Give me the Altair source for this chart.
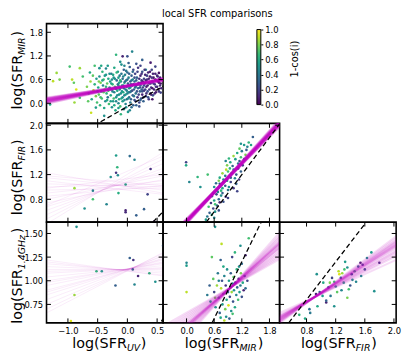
import altair as alt
import pandas as pd

FONT = "DejaVu Sans"
MAG = "#bf00bf"

# ---------------- axis ranges and ticks ----------------
UV_DOM = [-1.36, 0.6]
MIR_DOM = [-0.51, 2.02]
FIR_DOM = [0.43, 2.03]
R14_DOM = [0.555, 1.62]
UV_TICKS = [-1.0, -0.5, 0.0, 0.5]
MIR_TICKS = [0.0, 0.6, 1.2, 1.8]
FIR_TICKS = [0.8, 1.2, 1.6, 2.0]
R14_TICKS = [0.75, 1.0, 1.25, 1.5]
CB_TICKS = [0.0, 0.2, 0.4, 0.6, 0.8, 1.0]

# ---------------- scatter data (x, y, 1-cos(i)) ----------------
P_UV_MIR = [
    (0.08, 1.31, 0.45), (-0.19, 1.23, 0.65), (-0.08, 1.19, 0.1), (0.0, 1.19, 0.25), (0.25, 1.10, 0.3),
    (0.39, 1.03, 0.08), (-0.97, 0.93, 0.7), (-0.80, 0.89, 0.85), (-0.55, 0.95, 0.7), (-0.47, 0.89, 0.5),
    (-0.33, 0.95, 0.55), (-1.19, 0.77, 0.85), (-1.25, 0.56, 0.9), (-1.14, 0.60, 0.8), (-0.93, 0.60, 0.9),
    (-0.90, 0.52, 0.75), (-0.75, 0.68, 0.7), (-0.86, 0.35, 0.95), (-1.30, -0.03, 0.6), (-0.89, 0.02, 0.85),
    (-0.80, 0.14, 0.7), (-0.61, -0.24, 0.92), (-0.39, -0.32, 0.5), (-0.11, -0.28, 0.65), (-0.53, -0.11, 0.55),
    (0.47, 0.93, 0.2), (0.53, 0.77, 0.05), (0.31, 0.85, 0.45), (0.56, 0.27, 0.2), (0.42, 0.10, 0.05),
    (-0.68, 0.42, 0.8), (-0.65, 0.25, 0.7), (-0.62, 0.55, 0.85), (-0.60, 0.10, 0.6), (-0.58, 0.70, 0.75),
    (-0.57, 0.33, 0.9), (-0.55, 0.48, 0.65), (-0.53, 0.18, 0.8), (-0.52, 0.62, 0.55), (-0.51, 0.02, 0.7),
    (-0.66, 0.05, 0.75), (-0.63, 0.78, 0.6),
    (-0.49, 0.40, 0.6), (-0.48, 0.22, 0.75), (-0.47, 0.68, 0.5), (-0.46, -0.05, 0.65), (-0.45, 0.52, 0.8),
    (-0.44, 0.30, 0.55), (-0.43, 0.12, 0.7), (-0.42, 0.80, 0.65), (-0.41, 0.45, 0.45), (-0.40, 0.60, 0.7),
    (-0.39, -0.12, 0.6), (-0.38, 0.35, 0.85), (-0.37, 0.05, 0.5), (-0.36, 0.72, 0.55), (-0.35, 0.25, 0.65),
    (-0.34, 0.50, 0.75), (-0.33, 0.15, 0.4), (-0.32, 0.62, 0.6), (-0.31, -0.02, 0.7), (-0.30, 0.40, 0.5),
    (-0.44, 0.95, 0.6), (-0.36, 0.88, 0.45),
    (-0.29, 0.55, 0.55), (-0.28, 0.20, 0.6), (-0.27, 0.75, 0.4), (-0.27, 0.35, 0.7), (-0.26, -0.10, 0.5),
    (-0.25, 0.48, 0.65), (-0.24, 0.05, 0.55), (-0.23, 0.65, 0.5), (-0.22, 0.28, 0.45), (-0.22, 0.90, 0.6),
    (-0.21, 0.42, 0.75), (-0.20, -0.18, 0.6), (-0.19, 0.15, 0.5), (-0.18, 0.58, 0.35), (-0.17, 0.32, 0.6),
    (-0.16, 0.80, 0.55), (-0.15, 0.00, 0.45), (-0.15, 0.45, 0.65), (-0.14, 0.22, 0.5), (-0.13, 0.70, 0.4),
    (-0.12, 0.38, 0.55), (-0.12, -0.08, 0.7), (-0.11, 0.55, 0.45), (-0.10, 0.12, 0.6), (-0.10, 0.98, 0.5),
    (-0.26, 0.60, 0.5), (-0.19, 0.36, 0.55), (-0.14, 0.52, 0.6),
    (-0.09, 0.30, 0.5), (-0.08, 0.62, 0.35), (-0.08, 0.05, 0.55), (-0.07, 0.45, 0.45), (-0.06, 0.85, 0.3),
    (-0.06, -0.15, 0.5), (-0.05, 0.20, 0.4), (-0.05, 0.52, 0.6), (-0.04, 0.72, 0.45), (-0.03, 0.35, 0.35),
    (-0.03, -0.02, 0.45), (-0.02, 0.58, 0.5), (-0.01, 0.10, 0.3), (-0.01, 0.42, 0.55), (0.00, 0.78, 0.35),
    (0.00, 0.25, 0.4), (0.01, -0.22, 0.55), (0.01, 0.50, 0.3), (0.02, 0.65, 0.45), (0.03, 0.15, 0.35),
    (0.03, 0.38, 0.5), (0.04, 0.92, 0.3), (0.05, 0.02, 0.4), (0.05, 0.55, 0.25), (0.06, 0.30, 0.45),
    (0.07, 0.70, 0.3), (0.07, -0.10, 0.35), (0.08, 0.45, 0.4), (0.09, 0.20, 0.3), (0.09, 0.60, 0.5),
    (0.10, 0.85, 0.2), (-0.07, 0.28, 0.6), (0.02, 0.28, 0.55), (0.06, 0.48, 0.35),
    (0.11, 0.35, 0.3), (0.12, 0.08, 0.25), (0.12, 0.55, 0.35), (0.13, 0.75, 0.2), (0.14, 0.25, 0.4),
    (0.15, -0.05, 0.3), (0.15, 0.45, 0.2), (0.16, 0.65, 0.3), (0.17, 0.15, 0.15), (0.18, 0.38, 0.35),
    (0.18, 0.90, 0.15), (0.19, 0.52, 0.25), (0.20, 0.02, 0.2), (0.21, 0.30, 0.3), (0.22, 0.70, 0.1),
    (0.22, 0.45, 0.4), (0.23, 0.12, 0.25), (0.24, 0.58, 0.15), (0.25, 0.80, 0.25), (0.25, 0.22, 0.1),
    (0.26, 0.40, 0.2), (0.27, 0.05, 0.3), (0.28, 0.62, 0.2), (0.28, 0.32, 0.15), (0.29, 0.50, 0.35),
    (0.30, 0.72, 0.1), (0.14, 0.42, 0.45), (0.24, 0.35, 0.3),
    (0.31, 0.18, 0.2), (0.32, 0.42, 0.1), (0.33, 0.60, 0.15), (0.34, 0.30, 0.25), (0.35, 0.78, 0.1),
    (0.36, 0.10, 0.15), (0.37, 0.50, 0.2), (0.38, 0.68, 0.05), (0.39, 0.25, 0.1), (0.40, 0.40, 0.15),
    (0.41, 0.85, 0.2), (0.42, 0.55, 0.1), (0.43, 0.20, 0.25), (0.44, 0.65, 0.05), (0.45, 0.35, 0.1),
    (0.46, 0.48, 0.15), (0.47, 0.75, 0.1), (0.48, 0.28, 0.05), (0.49, 0.58, 0.2), (0.50, 0.42, 0.1),
    (0.51, 0.68, 0.15), (0.52, 0.35, 0.05), (0.53, 0.52, 0.1), (0.54, 0.62, 0.08), (0.55, 0.45, 0.12),
    (-0.28, 0.05, 0.55), (-0.27, 0.50, 0.6), (-0.25, 0.30, 0.45), (-0.24, 0.72, 0.6), (-0.23, 0.12, 0.7),
    (-0.21, 0.62, 0.5), (-0.20, 0.40, 0.55), (-0.19, 0.05, 0.45), (-0.18, 0.78, 0.65), (-0.17, 0.20, 0.5),
    (-0.16, 0.48, 0.4), (-0.15, 0.65, 0.55), (-0.14, 0.10, 0.6), (-0.13, 0.35, 0.45), (-0.12, 0.58, 0.65),
    (-0.11, 0.25, 0.5), (-0.10, 0.75, 0.4), (-0.09, 0.45, 0.55), (-0.08, 0.15, 0.5), (-0.07, 0.68, 0.45),
    (-0.06, 0.38, 0.4), (-0.05, 0.08, 0.5), (-0.04, 0.55, 0.3), (-0.03, 0.22, 0.55), (-0.02, 0.82, 0.4),
    (-0.01, 0.32, 0.45), (0.00, 0.60, 0.35), (0.01, 0.12, 0.5), (0.02, 0.45, 0.4), (0.03, 0.75, 0.3),
    (0.04, 0.28, 0.35), (0.05, 0.40, 0.5), (0.06, 0.10, 0.3), (0.07, 0.58, 0.4), (0.08, 0.32, 0.25),
    (0.09, 0.80, 0.35), (0.10, 0.48, 0.3), (0.11, 0.18, 0.4), (0.12, 0.65, 0.25), (0.13, 0.40, 0.35),
    (0.14, 0.05, 0.2), (0.15, 0.58, 0.3), (0.16, 0.30, 0.25), (0.17, 0.80, 0.2), (0.18, 0.48, 0.3),
    (0.19, 0.22, 0.2), (0.20, 0.62, 0.15), (0.21, 0.40, 0.25), (0.22, 0.08, 0.3), (0.23, 0.52, 0.2),
    (0.24, 0.75, 0.15), (0.25, 0.30, 0.25), (0.26, 0.55, 0.1), (0.27, 0.15, 0.2), (0.28, 0.45, 0.25),
    (0.29, 0.85, 0.15), (0.30, 0.35, 0.2), (0.31, 0.58, 0.1), (0.32, 0.25, 0.15), (0.33, 0.70, 0.2),
    (0.34, 0.45, 0.1), (0.35, 0.15, 0.25), (0.36, 0.62, 0.1), (0.37, 0.35, 0.15), (0.38, 0.80, 0.08),
    (0.39, 0.50, 0.2), (0.40, 0.22, 0.1), (0.41, 0.65, 0.15), (0.42, 0.38, 0.05), (0.43, 0.75, 0.1),
    (0.44, 0.50, 0.2), (0.46, 0.25, 0.1), (0.47, 0.60, 0.05), (0.48, 0.42, 0.15), (0.50, 0.70, 0.1),
    (0.52, 0.55, 0.05), (0.53, 0.30, 0.15), (0.55, 0.65, 0.1), (0.56, 0.50, 0.05), (0.57, 0.38, 0.1),
    (-0.45, 0.15, 0.7), (-0.42, 0.58, 0.6), (-0.40, 0.28, 0.75), (-0.38, 0.70, 0.55), (-0.36, 0.42, 0.65),
    (-0.34, 0.08, 0.6), (-0.32, 0.32, 0.7), (-0.30, 0.75, 0.5), (-0.48, 0.55, 0.8), (-0.50, 0.30, 0.7),
    (-0.02, -0.10, 0.5), (0.10, -0.05, 0.3), (-0.15, -0.12, 0.55), (0.20, -0.08, 0.25), (0.04, -0.18, 0.45),
    (-0.22, -0.05, 0.6), (0.02, 1.02, 0.3), (-0.12, 1.05, 0.5), (0.15, 1.00, 0.25), (0.22, 0.95, 0.2),
    (-0.05, 0.95, 0.45),
]

P_UV_FIR = [
    (-0.19, 1.51, 0.55), (0.04, 1.50, 0.35), (0.12, 1.44, 0.45), (-0.17, 1.32, 0.65), (-0.19, 1.23, 0.15),
    (-0.16, 1.19, 0.5), (-0.28, 1.16, 0.5), (0.39, 1.29, 0.15), (-0.03, 1.04, 0.6), (-0.89, 0.98, 0.85),
    (-0.58, 0.94, 0.45), (-0.15, 0.90, 0.62), (0.34, 0.88, 0.2), (-0.58, 0.80, 0.7), (-0.35, 0.72, 0.45),
    (-0.72, 0.65, 0.5), (-0.03, 0.62, 0.1), (-0.03, 0.59, 0.12), (0.28, 0.64, 0.3), (0.15, 0.54, 0.3),
    (0.45, 0.44, 0.05),
]

P_MIR_FIR = [
    (0.45, 0.52, 0.4), (0.50, 0.58, 0.3), (0.55, 0.55, 0.6), (0.58, 0.65, 0.2), (0.62, 0.60, 0.5),
    (0.48, 0.68, 0.7), (0.66, 0.70, 0.3), (0.53, 0.74, 0.15), (0.70, 0.62, 0.25), (0.60, 0.50, 0.45),
    (0.42, 0.47, 0.55),
    (0.55, 0.85, 0.4), (0.60, 0.78, 0.6), (0.65, 0.88, 0.2), (0.70, 0.80, 0.35), (0.75, 0.86, 0.5),
    (0.80, 0.76, 0.25), (0.85, 0.84, 0.15), (0.62, 0.72, 0.7), (0.68, 0.92, 0.45), (0.78, 0.90, 0.3),
    (0.90, 0.82, 0.2), (0.58, 0.90, 0.55), (0.72, 0.75, 0.1),
    (0.60, 1.00, 0.5), (0.66, 0.95, 0.7), (0.72, 1.05, 0.3), (0.78, 0.98, 0.6), (0.84, 1.02, 0.25),
    (0.90, 0.95, 0.4), (0.96, 1.08, 0.2), (1.02, 0.98, 0.15), (0.70, 1.10, 0.8), (0.80, 1.08, 0.45),
    (0.88, 1.10, 0.55), (1.08, 1.05, 0.3), (0.64, 1.06, 0.35), (0.75, 0.94, 0.65), (0.92, 1.00, 0.5),
    (1.10, 0.93, 0.2),
    (0.72, 1.15, 0.6), (0.78, 1.22, 0.85), (0.84, 1.18, 0.4), (0.90, 1.25, 0.7), (0.96, 1.15, 0.3),
    (1.02, 1.28, 0.5), (1.08, 1.20, 0.25), (1.14, 1.12, 0.15), (0.86, 1.28, 0.9), (0.98, 1.22, 0.6),
    (1.05, 1.14, 0.45), (1.18, 1.25, 0.3), (0.80, 1.12, 0.55), (0.94, 1.30, 0.65), (1.12, 1.30, 0.2),
    (0.88, 1.35, 0.8), (0.95, 1.40, 0.6), (1.00, 1.34, 0.3), (1.06, 1.45, 0.55), (1.12, 1.38, 0.4),
    (1.18, 1.48, 0.7), (1.22, 1.35, 0.2), (0.92, 1.46, 0.65), (1.02, 1.50, 0.85), (1.15, 1.42, 0.25),
    (1.25, 1.45, 0.5), (0.85, 1.42, 0.45),
    (1.10, 1.55, 0.6), (1.15, 1.62, 0.75), (1.20, 1.58, 0.4), (1.25, 1.68, 0.55), (1.30, 1.60, 0.3),
    (1.35, 1.72, 0.65), (1.18, 1.70, 0.5), (1.28, 1.52, 0.8), (1.32, 1.65, 0.45), (1.44, 1.81, 0.3),
    (1.40, 1.68, 0.6),
    (-0.01, 1.40, 0.2), (-0.01, 1.35, 0.6), (0.06, 1.08, 0.45), (0.24, 1.16, 0.65), (0.46, 1.20, 0.7),
    (0.30, 1.00, 0.5),
]

P_UV_R14 = [
    (-0.855, 1.57, 0.5), (0.04, 1.24, 0.3), (0.10, 1.22, 0.15), (0.09, 1.12, 0.35), (-0.52, 1.10, 0.65),
    (-0.43, 1.10, 0.55), (0.18, 1.05, 0.1), (0.37, 1.08, 0.65), (0.47, 0.99, 0.5), (0.60, 1.37, 0.3),
    (-0.20, 0.95, 0.3), (0.12, 0.96, 0.45), (-0.89, 0.85, 0.85), (-0.95, 0.575, 0.95),
]

P_MIR_R14 = [
    (0.62, 1.57, 0.5), (0.76, 1.39, 0.9), (1.35, 1.45, 0.7), (1.17, 1.37, 0.5), (0.0, 1.19, 0.45),
    (0.0, 1.16, 0.55), (0.0, 0.88, 0.9), (0.55, 1.25, 0.75), (0.74, 1.22, 0.3), (0.99, 1.25, 0.2),
    (1.28, 1.27, 0.1), (0.74, 0.61, 0.6), (1.05, 1.30, 0.65), (1.20, 1.18, 0.35),
    (0.45, 0.85, 0.4), (0.50, 0.95, 0.3), (0.52, 0.78, 0.6), (0.58, 1.02, 0.75), (0.60, 0.88, 0.2),
    (0.63, 0.72, 0.5), (0.66, 0.95, 0.85), (0.68, 1.08, 0.4), (0.70, 0.82, 0.65), (0.72, 0.66, 0.3),
    (0.75, 0.92, 0.9), (0.77, 1.00, 0.25), (0.78, 0.75, 0.55), (0.80, 0.86, 0.7), (0.82, 1.05, 0.45),
    (0.84, 0.70, 0.8), (0.85, 0.95, 0.15), (0.87, 0.80, 0.6), (0.88, 1.12, 0.5), (0.90, 0.88, 0.35),
    (0.91, 0.74, 0.95), (0.92, 1.00, 0.55), (0.94, 0.83, 0.2), (0.95, 0.93, 0.7), (0.96, 1.08, 0.3),
    (0.97, 0.68, 0.5), (0.98, 0.88, 0.85), (1.00, 0.97, 0.4), (1.01, 0.78, 0.25), (1.02, 1.04, 0.75),
    (1.03, 0.90, 0.5), (1.05, 0.72, 0.6), (1.06, 0.98, 0.15), (1.08, 0.85, 0.45), (1.09, 1.12, 0.65),
    (1.10, 0.93, 0.3), (1.12, 0.80, 0.7), (1.13, 1.02, 0.2), (1.15, 0.88, 0.55), (1.17, 0.95, 0.4),
    (1.18, 1.08, 0.8), (1.20, 0.83, 0.25), (1.22, 0.98, 0.6), (1.24, 0.90, 0.1), (1.26, 1.05, 0.45),
    (1.28, 0.92, 0.35), (0.86, 0.62, 0.5), (0.93, 0.60, 0.3), (1.00, 0.65, 0.7), (0.80, 1.15, 0.6),
    (0.70, 1.00, 0.45), (0.62, 0.82, 0.8), (1.32, 1.00, 0.2), (1.14, 1.15, 0.5), (0.82, 0.58, 0.9),
]

P_FIR_R14 = [
    (0.94, 1.07, 0.5), (0.93, 0.86, 0.1), (0.98, 0.88, 0.3), (0.84, 0.70, 0.35), (0.70, 0.64, 0.65),
    (1.07, 0.77, 0.1), (1.13, 0.84, 0.4), (1.20, 0.94, 0.55), (1.25, 1.07, 0.95), (1.29, 1.08, 0.85),
    (1.36, 1.14, 0.5), (1.38, 0.91, 0.7), (1.43, 1.01, 0.5), (1.48, 0.99, 0.45), (1.54, 1.19, 0.1),
    (1.57, 1.17, 0.25), (1.63, 1.24, 0.5), (1.69, 1.30, 0.55), (1.73, 0.89, 0.5), (1.80, 1.19, 0.15),
    (1.18, 0.73, 0.5), (1.36, 0.82, 0.8), (1.07, 0.79, 0.3), (1.03, 0.98, 0.6), (1.10, 0.93, 0.45),
    (1.18, 0.99, 0.7), (1.27, 1.03, 0.35), (1.31, 0.98, 0.6), (1.42, 1.07, 0.3), (1.46, 1.10, 0.65),
    (1.51, 1.15, 0.4), (1.15, 1.03, 0.2), (1.22, 0.88, 0.75), (0.95, 0.73, 0.6), (0.85, 0.66, 0.4),
    (1.24, 1.10, 0.9), (1.33, 1.20, 0.55), (1.40, 0.95, 0.25), (1.12, 0.98, 0.8), (1.28, 0.90, 0.45),
    (0.78, 0.60, 0.6), (1.55, 1.05, 0.5), (1.60, 1.12, 0.3), (1.02, 0.84, 0.55), (1.32, 1.12, 0.7),
]

# ---------------- fitted relations: y at left / right end of the x range ----------------
FIT_UV_MIR_L = [0.10, 0.07, 0.03, 0.11, 0.14, 0.00, 0.06, 0.12, 0.08, 0.04, 0.02, 0.13, 0.05, 0.09, -0.01, 0.11, 0.05, 0.07, 0.04, 0.10]
FIT_UV_MIR_R = [0.57, 0.60, 0.62, 0.61, 0.57, 0.63, 0.59, 0.605, 0.60, 0.61, 0.62, 0.58, 0.62, 0.58, 0.63, 0.585, 0.61, 0.595, 0.63, 0.57]
FIT_UV_FIR_L = [1.23, 1.15, 1.10, 1.05, 1.00, 0.95, 0.90, 0.85, 0.80, 0.74, 0.68, 0.62, 0.55, 0.48, 0.40, 1.18, 0.98, 0.70]
FIT_UV_FIR_R = [0.90, 0.95, 0.88, 1.00, 1.05, 0.98, 1.10, 1.02, 1.18, 1.12, 1.25, 1.30, 1.38, 1.45, 1.56, 1.02, 1.20, 1.50]
FIT_MIR_FIR_L = [0.00, 0.02, 0.04, 0.06, 0.08, 0.03, 0.05, 0.01, 0.07, 0.04, 0.10, -0.02, 0.05, 0.03, 0.06, 0.02, 0.04, 0.09, 0.00, 0.05]
FIT_MIR_FIR_R = [2.06, 2.04, 2.03, 2.01, 2.00, 2.05, 2.02, 2.07, 2.00, 2.04, 1.98, 2.09, 2.03, 2.05, 2.01, 2.06, 2.03, 1.99, 2.08, 2.02]
FIT_UV_R14_L = [1.22, 1.18, 1.15, 1.12, 1.08, 1.04, 1.00, 0.95, 0.90, 0.85, 0.80, 0.75, 0.70, 0.66, 1.20, 0.98, 0.88, 1.10]
FIT_UV_R14_R = [1.05, 1.08, 1.10, 1.12, 1.14, 1.16, 1.18, 1.20, 1.22, 1.24, 1.26, 1.27, 1.29, 1.30, 1.06, 1.19, 1.23, 1.13]
FIT_MIR_R14_L = [0.52, 0.49, 0.46, 0.43, 0.40, 0.37, 0.34, 0.32, 0.31, 0.29, 0.28, 0.26, 0.25, 0.22, 0.19, 0.16, 0.12, 0.31, 0.34, 0.28]
FIT_MIR_R14_R = [1.23, 1.25, 1.27, 1.29, 1.31, 1.33, 1.35, 1.36, 1.38, 1.39, 1.40, 1.41, 1.42, 1.44, 1.46, 1.48, 1.51, 1.38, 1.35, 1.40]
FIT_FIR_R14_L = [0.66, 0.64, 0.62, 0.61, 0.60, 0.59, 0.58, 0.57, 0.56, 0.55, 0.60, 0.62, 0.58, 0.63, 0.59, 0.61, 0.57, 0.60]
FIT_FIR_R14_R = [1.22, 1.26, 1.30, 1.33, 1.36, 1.38, 1.40, 1.42, 1.45, 1.47, 1.37, 1.31, 1.41, 1.28, 1.39, 1.35, 1.43, 1.38]

# ---------------- dashed reference lines (two end points) ----------------
DASH_UV_MIR = [(-0.45, -0.47), (0.60, 0.43)]
DASH_UV_FIR = [(0.43, 0.43), (0.60, 0.60)]
DASH_MIR_FIR = [(0.43, 0.43), (2.03, 2.03)]
DASH_MIR_R14 = [(0.555, 0.555), (1.62, 1.62)]
DASH_FIR_R14 = [(0.555, 0.555), (1.62, 1.62)]

# ---------------- helpers ----------------
WID = {'l': .278, 'o': .612, 'g': .635, '(': .390, ')': .390, 'S': .635, 'F': .575, 'R': .695,
       'M': .863, 'I': .295, 'U': .732, 'V': .684, '1': .636, '.': .318, '4': .636, 'G': .775,
       'H': .752, 'z': .525}
MAIN_FS = 14.5
SUB_FS = 9.5
SUB_SHIFT = 3.0
TICK_FS = 8.5
YT_X = -24.5


def tw(s, fs):
    return sum(WID[c] for c in s) * fs


def text_layer(s, x, y, fs, angle=0, italic=False, align="left"):
    return alt.Chart(pd.DataFrame({"t": [s]})).mark_text(
        font=FONT, fontSize=fs, angle=angle, align=align, baseline="alphabetic",
        fontStyle="italic" if italic else "normal", color="black"
    ).encode(x=alt.value(x), y=alt.value(y), text="t:N")


def ytitle(sub, bx, ystart):
    layers = []
    cur = ystart
    layers.append(text_layer("log(SFR", bx, cur, MAIN_FS, angle=270))
    cur -= tw("log(SFR", MAIN_FS)
    layers.append(text_layer(sub, bx + SUB_SHIFT, cur, SUB_FS, angle=270, italic=True))
    cur -= tw(sub, SUB_FS) * 1.05
    layers.append(text_layer(")", bx, cur, MAIN_FS, angle=270))
    return layers


def xtitle(sub, xstart, by):
    layers = []
    cur = xstart
    layers.append(text_layer("log(SFR", cur, by, MAIN_FS))
    cur += tw("log(SFR", MAIN_FS)
    layers.append(text_layer(sub, cur, by + SUB_SHIFT, SUB_FS, italic=True))
    cur += tw(sub, SUB_FS) * 1.05
    layers.append(text_layer(")", cur, by, MAIN_FS))
    return layers


def make_axis(values, fmt):
    return alt.Axis(values=values, format=fmt, ticks=False, tickSize=0, domain=False, grid=False,
                    labelFont=FONT, labelFontSize=TICK_FS, labelColor="black", labelPadding=4,
                    labelFlush=False, labelOverlap=False)


def panel(pts, fitL, fitR, lw, lop, dash, xdom, ydom, xt, yt, w, h,
          xfmt=None, yfmt=None, extra=()):
    xs = alt.Scale(domain=xdom, nice=False, zero=False)
    ys = alt.Scale(domain=ydom, nice=False, zero=False)
    xax = make_axis(xt, xfmt) if xfmt else None
    yax = make_axis(yt, yfmt) if yfmt else None

    def X(f):
        return alt.X(f, scale=xs, axis=xax, title=None)

    def Y(f):
        return alt.Y(f, scale=ys, axis=yax, title=None)

    pdf = pd.DataFrame(pts, columns=["x", "y", "c"])
    pts_l = alt.Chart(pdf).mark_circle(size=7, opacity=1, clip=True).encode(
        x=X("x:Q"), y=Y("y:Q"),
        color=alt.Color("c:Q", scale=alt.Scale(scheme="viridis", domain=[0, 1]), legend=None))

    rows = []
    for i, (a, b) in enumerate(zip(fitL, fitR)):
        rows.append({"id": i, "x": xdom[0], "y": a})
        rows.append({"id": i, "x": xdom[1], "y": b})
    fit_l = alt.Chart(pd.DataFrame(rows)).mark_line(
        color=MAG, strokeWidth=lw, opacity=lop, clip=True).encode(
        x=X("x:Q"), y=Y("y:Q"), detail="id:N")

    ddf = pd.DataFrame(dash, columns=["x", "y"])
    dash_l = alt.Chart(ddf).mark_line(color="black", strokeWidth=1.3, strokeDash=[5, 3], clip=True).encode(
        x=X("x:Q"), y=Y("y:Q"))

    tx = pd.DataFrame({"v": xt})
    ty = pd.DataFrame({"v": yt})
    tl = 4.5
    tick_layers = [
        alt.Chart(tx).mark_rule(color="black", strokeWidth=1).encode(
            x=X("v:Q"), y=alt.value(h), y2=alt.value(h - tl)),
        alt.Chart(tx).mark_rule(color="black", strokeWidth=1).encode(
            x=X("v:Q"), y=alt.value(0), y2=alt.value(tl)),
        alt.Chart(ty).mark_rule(color="black", strokeWidth=1).encode(
            y=Y("v:Q"), x=alt.value(0), x2=alt.value(tl)),
        alt.Chart(ty).mark_rule(color="black", strokeWidth=1).encode(
            y=Y("v:Q"), x=alt.value(w - tl), x2=alt.value(w)),
    ]
    ch = alt.layer(pts_l, fit_l, dash_l, *tick_layers, *extra).properties(
        width=w, height=h, view=alt.ViewBackground(stroke="black", strokeWidth=1.6))
    return ch


def blank(w, h):
    return alt.Chart(pd.DataFrame({"a": [0]})).mark_point(opacity=0).encode(
        x=alt.value(0), y=alt.value(0)).properties(
        width=w, height=h, view=alt.ViewBackground(stroke="transparent"))


W = 118
H1, H2, H3 = 101, 100, 102

# ---------------- panels ----------------
p11 = panel(P_UV_MIR, FIT_UV_MIR_L, FIT_UV_MIR_R, 2.5, 0.16, DASH_UV_MIR, UV_DOM, MIR_DOM,
            UV_TICKS, MIR_TICKS, W, H1, yfmt=".1f",
            extra=ytitle("MIR", YT_X, 87))
p21 = panel(P_UV_FIR, FIT_UV_FIR_L, FIT_UV_FIR_R, 1, 0.08, DASH_UV_FIR, UV_DOM, FIR_DOM,
            UV_TICKS, FIR_TICKS, W, H2, yfmt=".1f",
            extra=ytitle("FIR", YT_X, 93))
p22 = panel(P_MIR_FIR, FIT_MIR_FIR_L, FIT_MIR_FIR_R, 3, 0.16, DASH_MIR_FIR, MIR_DOM, FIR_DOM,
            MIR_TICKS, FIR_TICKS, W, H2)
p31 = panel(P_UV_R14, FIT_UV_R14_L, FIT_UV_R14_R, 1, 0.08, DASH_UV_FIR, UV_DOM, R14_DOM,
            UV_TICKS, R14_TICKS, W, H3, xfmt=".1f", yfmt=".2f",
            extra=ytitle("1.4GHz", YT_X, 103) + xtitle("UV", 26, 127.5))
p32 = panel(P_MIR_R14, FIT_MIR_R14_L, FIT_MIR_R14_R, 2, 0.14, DASH_MIR_R14, MIR_DOM, R14_DOM,
            MIR_TICKS, R14_TICKS, W, H3, xfmt=".1f",
            extra=xtitle("MIR", 22, 127.5))
p33 = panel(P_FIR_R14, FIT_FIR_R14_L, FIT_FIR_R14_R, 2, 0.14, DASH_FIR_R14, FIR_DOM, R14_DOM,
            FIR_TICKS, R14_TICKS, W, H3, xfmt=".1f",
            extra=xtitle("FIR", 21.7, 127.5))

# ---------------- colorbar cell (top middle) ----------------
VIRIDIS = ["#440154", "#482878", "#3e4989", "#31688e", "#26828e", "#1f9e89",
           "#35b779", "#6ece58", "#b5de2b", "#fde725"]
stops = [alt.GradientStop(color=c, offset=i / (len(VIRIDIS) - 1)) for i, c in enumerate(VIRIDIS)]
cb_scale = alt.Scale(domain=[-0.25, 1.079], nice=False, zero=False)
cb_df = pd.DataFrame({"lo": [0.0], "hi": [1.0]})
CB_X0, CB_X1 = 95, 99
cbar_rect = alt.Chart(cb_df).mark_rect(
    color=alt.Gradient(gradient="linear", stops=stops, x1=0, x2=0, y1=1, y2=0),
    stroke="black", strokeWidth=1).encode(
    x=alt.value(CB_X0), x2=alt.value(CB_X1),
    y=alt.Y("lo:Q", scale=cb_scale, title=None,
            axis=alt.Axis(orient="right", offset=CB_X1 - W, values=CB_TICKS, format=".1f",
                          domain=False, grid=False, ticks=True, tickSize=2, tickColor="black",
                          labelPadding=2, labelFont=FONT, labelFontSize=TICK_FS, labelColor="black",
                          labelFlush=False, labelOverlap=False)),
    y2="hi:Q")
cbar = alt.layer(
    cbar_rect,
    text_layer("1-cos(i)", CB_X0 + 42, 36, 10, angle=270, align="center"),
    text_layer("local SFR comparisons", 55, -6.4, 10, align="center"),
).properties(width=W, height=H1, view=alt.ViewBackground(stroke="transparent"))

chart = alt.concat(
    p11, cbar, blank(W, H1),
    p21, p22, blank(W, H2),
    p31, p32, p33,
    columns=3, spacing=0, bounds="flush",
).properties(
    padding={"left": 1, "top": -1.4, "right": 5, "bottom": 5}
).configure(font=FONT)

chart.save("out.html", embed_options={"renderer": "svg", "actions": False})
